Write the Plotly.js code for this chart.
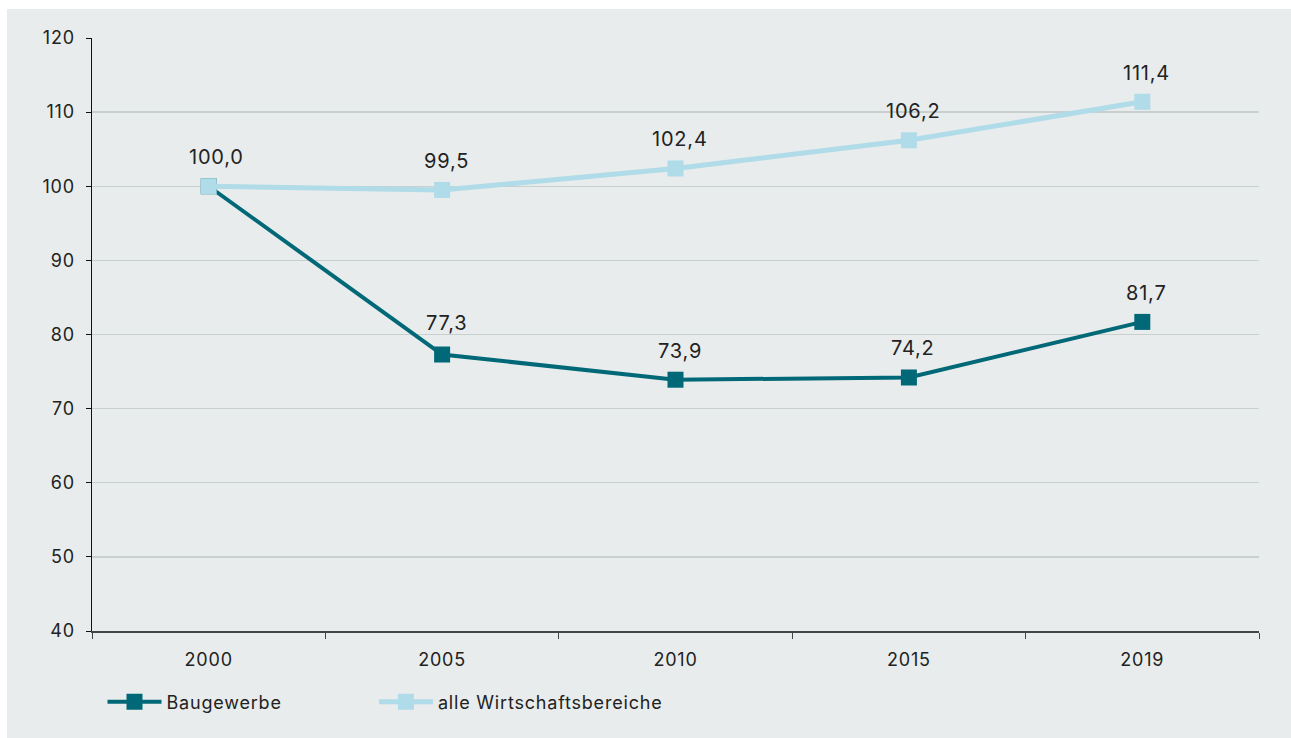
<!DOCTYPE html>
<html>
<head>
<meta charset="utf-8">
<script src="https://cdn.plot.ly/plotly-3.0.1.min.js"></script>
<style>
html,body{margin:0;padding:0;background:#ffffff;}
#wrap{position:absolute;left:7px;top:9px;width:1284px;height:729px;background:#e8ecec;}
#chart{width:1284px;height:729px;}
text{letter-spacing:0.8px;}
</style>
</head>
<body>
<div id="wrap"><div id="chart"></div></div>
<script>
const years = ['2000', '2005', '2010', '2015', '2019'];
const baugewerbe = [100.0, 77.3, 73.9, 74.2, 81.7];
const alleBereiche = [100.0, 99.5, 102.4, 106.2, 111.4];
const seriesNames = ['Baugewerbe', 'alle Wirtschaftsbereiche'];
const yTicks = [40, 50, 60, 70, 80, 90, 100, 110, 120];

const FONT = 'Inter, "Open Sans", sans-serif';
const DARK = '#006876';
const LIGHT = '#b0dbe8';

const traces = [
  {
    x: years, y: baugewerbe, name: seriesNames[0], type: 'scatter',
    mode: 'lines+markers', legend: 'legend',
    line: {color: DARK, width: 4},
    marker: {symbol: 'square', size: 16, color: DARK},
    cliponaxis: false, hoverinfo: 'skip'
  },
  {
    x: years, y: alleBereiche, name: seriesNames[1], type: 'scatter',
    mode: 'lines+markers', legend: 'legend2',
    line: {color: LIGHT, width: 5},
    marker: {symbol: 'square', size: 16, color: LIGHT},
    cliponaxis: false, hoverinfo: 'skip'
  }
];

// category axis: annotation x uses the category index
const fmt = v => v.toFixed(1).replace('.', ',');
const labelFont = {family: FONT, size: 20, color: '#222222'};
const annotations = [];
alleBereiche.forEach((v, i) => annotations.push({
  xref: 'x', yref: 'y', x: i, y: v, text: fmt(v), showarrow: false,
  xshift: i === 0 ? 8 : 4, yshift: 29, font: labelFont
}));
baugewerbe.forEach((v, i) => { if (i > 0) annotations.push({
  xref: 'x', yref: 'y', x: i, y: v, text: fmt(v), showarrow: false,
  xshift: 4, yshift: i === 1 ? 32 : 29, font: labelFont
}); });

const legendBase = {
  orientation: 'h', xanchor: 'left', y: -0.12, yanchor: 'middle',
  font: {family: FONT, size: 18, color: '#222222'},
  itemwidth: 54, bgcolor: 'rgba(0,0,0,0)'
};

const layout = {
  width: 1284, height: 729,
  paper_bgcolor: '#e8ecec', plot_bgcolor: '#e8ecec',
  margin: {l: 85, r: 32, t: 29, b: 107},
  separators: ',.',
  font: {family: FONT, size: 18, color: '#222222'},
  showlegend: true,
  annotations: annotations,
  legend: Object.assign({}, legendBase, {x: 0.009}),
  legend2: Object.assign({}, legendBase, {x: 0.2416}),
  xaxis: {
    type: 'category', tickson: 'boundaries', range: [-0.5, 4.5],
    showline: true, linecolor: '#444444', linewidth: 1.5,
    ticks: 'outside', ticklen: 6, tickcolor: '#444444',
    showgrid: false, zeroline: false,
    tickfont: {family: FONT, size: 18, color: '#222222'},
    ticklabelstandoff: 12
  },
  yaxis: {
    range: [40, 120], tickvals: yTicks,
    showline: true, linecolor: '#111111', linewidth: 1.5,
    ticks: 'outside', ticklen: 5, tickcolor: '#111111',
    showgrid: true, gridcolor: '#c8d0cf', gridwidth: 1.3,
    zeroline: false,
    tickfont: {family: FONT, size: 18, color: '#222222'},
    ticklabelstandoff: 7
  }
};
Plotly.newPlot('chart', traces, layout, {displayModeBar: false, staticPlot: true});
</script>
</body>
</html>
